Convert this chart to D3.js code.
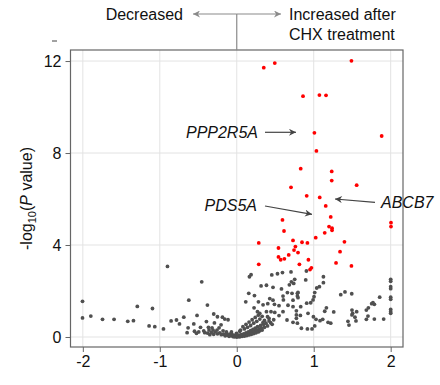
<!DOCTYPE html>
<html><head><meta charset="utf-8">
<script src="https://cdn.jsdelivr.net/npm/d3@7"></script>
<style>body{margin:0;background:#fff}svg{display:block;font-family:"Liberation Sans",Arial,sans-serif}</style>
</head><body><svg id="c" width="440" height="385"></svg>
<script>
const xTicks = [-2, -1, 0, 1, 2];
const yTicks = [0, 4, 8, 12];
const headerLeft = "Decreased";
const headerRight = ["Increased after", "CHX treatment"];
// significant (red) points: [log2 fold change, -log10 P]
const sigPoints = [
[0.351,11.71],[0.494,11.91],[1.490,12.01],[0.861,10.47],[1.074,10.52],[1.160,10.51],
[1.009,8.88],[1.883,8.74],[1.035,8.09],[0.831,7.32],[1.234,7.20],[1.234,6.80],
[0.705,6.51],[1.558,6.60],[0.909,6.14],[1.078,6.07],[1.156,5.70],[1.221,5.22],
[2.004,4.97],[2.004,4.80],[0.594,5.09],[0.614,4.61],[1.199,4.80],[1.238,4.73],
[1.238,4.64],[1.143,4.53],[1.026,4.32],[0.286,4.09],[0.731,4.20],[0.848,4.12],
[0.918,4.09],[1.399,4.14],[0.762,3.93],[0.744,3.78],[0.796,3.67],[0.542,3.87],
[1.342,3.71],[0.675,3.57],[0.542,3.48],[0.571,3.36],[0.619,3.40],[0.931,3.36],
[0.286,3.16],[0.814,3.16],[1.290,3.22],[0.970,3.01],[0.952,2.93],[1.490,3.09]
];
// non-significant (grey) points
const nsPoints = [
[-2.004,1.55],[-2.004,0.83],[-1.896,0.91],[-1.744,0.77],[-1.594,0.77],[-1.416,0.68],
[-1.342,0.71],[-1.292,1.33],[-1.139,0.48],[-1.095,1.24],[-1.065,0.45],[-0.952,0.35],
[-0.900,3.07],[-0.853,0.70],[-0.783,0.74],[-0.744,0.57],[-0.688,0.86],[-0.623,1.60],
[-0.516,0.94],[-0.455,2.40],[-0.381,1.39],[-0.299,1.00],[-0.251,0.88],[-0.156,0.78],
[-0.113,0.75],[-0.558,0.57],[-0.394,0.67],[-0.290,0.61],[-0.204,0.53],[-0.186,0.86],
[-0.632,0.40],[-0.471,0.42],[-0.368,0.42],[-0.321,0.40],[-0.230,0.40],[-0.645,0.19],
[-0.549,0.25],[-0.494,0.22],[-0.429,0.27],[-0.360,0.30],[-0.308,0.30],[-0.256,0.30],
[-0.178,0.27],[-0.523,0.16],[-0.416,0.19],[-0.134,0.22],[-0.069,0.22],[-0.004,0.16],
[0.039,0.25],
[-0.17,0.12],[-0.15,0.05],[-0.13,0.15],[-0.12,0.08],[-0.10,0.03],[-0.09,0.12],[-0.08,0.06],
[-0.06,0.10],[-0.05,0.02],[-0.04,0.07],[-0.03,0.01],[-0.02,0.05],[0.00,0.00],[0.01,0.04],
[0.02,0.02],[0.03,0.08],[0.04,0.01],[0.05,0.05],[0.06,0.10],[0.07,0.03],[0.08,0.07],
[0.09,0.14],[0.10,0.04],[0.11,0.09],[0.12,0.18],[0.13,0.06],[0.14,0.12],[0.15,0.22],
[0.16,0.09],[0.17,0.16],[0.18,0.28],[0.19,0.12],[0.20,0.20],[0.21,0.33],[0.22,0.15],
[0.23,0.25],[0.24,0.38],[0.25,0.18],[0.26,0.30],[0.27,0.45],[0.28,0.22],[0.29,0.35],
[0.30,0.27],[0.31,0.50],[0.32,0.40],[0.33,0.30],[0.35,0.55],[0.36,0.42],[0.38,0.60],
[0.40,0.48],[0.42,0.70],[-0.20,0.10],[-0.22,0.18],[-0.25,0.14],[-0.28,0.22],[-0.30,0.12],
[-0.33,0.20],[-0.35,0.10],[-0.38,0.17],
[0.165,2.62],[0.186,2.71],[0.455,2.70],[0.594,2.80],[0.705,2.83],[0.316,2.22],[0.386,2.25],
[0.471,2.16],[0.710,2.40],[0.740,2.33],[0.684,2.27],[0.581,2.09],[0.156,1.90],[0.230,1.80],
[0.117,1.53],[0.429,1.67],[0.471,1.60],[0.601,1.78],[0.658,1.93],[0.718,1.90],[0.788,1.90],
[0.606,1.61],[0.731,1.60],[0.796,1.71],[0.282,1.53],[0.342,1.40],[0.403,1.45],[0.490,1.42],
[0.549,1.36],[0.666,1.38],[0.731,1.32],[0.225,1.27],[0.269,1.10],[0.299,1.03],[0.386,1.10],
[0.445,1.10],[0.494,1.07],[0.601,1.10],[0.775,1.14],[0.549,0.93],[0.419,0.81],[0.653,0.74],
[0.775,0.96],[0.731,0.64],[0.529,2.75],
[0.05,0.30],[0.08,0.45],[0.10,0.35],[0.12,0.55],[0.14,0.42],[0.16,0.65],[0.18,0.50],
[0.20,0.75],[0.22,0.60],[0.24,0.85],[0.26,0.68],[0.28,0.95],[0.30,0.78],[0.33,0.90],
[0.36,0.72],[0.40,0.88],[0.44,0.62],[0.48,0.75],[0.34,0.62],[0.46,0.55],
[0.905,2.87],[0.896,2.48],[1.126,2.62],[1.126,2.36],[1.074,2.19],[1.039,2.13],[1.013,1.93],
[1.004,1.75],[0.991,1.61],[0.961,1.49],[0.909,1.47],[0.753,2.51],[0.796,1.94],[0.788,1.78],
[0.831,1.32],[0.926,1.03],[0.827,0.94],[0.996,0.88],[1.165,1.27],[1.143,1.12],[1.260,1.09],
[1.351,1.84],[1.406,1.96],[0.775,0.81],[0.788,0.60],[1.030,0.77],[1.082,0.71],[1.117,0.77],
[1.186,0.64],[1.221,0.60],[1.013,0.48],[0.840,0.38],[0.918,0.35],[0.978,0.35],[1.445,0.68],
[1.497,1.17],[1.506,1.03],[1.458,0.52],
[1.494,1.88],[1.857,1.73],[1.770,1.49],[1.788,1.42],[1.753,1.45],[1.710,1.27],[1.684,1.17],
[1.558,1.10],[1.497,0.96],[1.536,0.86],[1.705,0.91],[1.684,0.77],[1.788,0.78],[1.909,0.78],
[1.549,0.70],
[2.0,2.51],[2.0,2.42],[2.0,2.19],[2.0,2.10],[2.0,1.73],[2.0,1.64],[2.0,1.20],[2.0,1.10],[2.0,1.03]
];
// labelled genes: [name, text x, text y (data), arrow from, arrow to] in data units
const genes = ["PPP2R5A", "PDS5A", "ABCB7"];

const svg = d3.select("#c");
const L = 70.5, R = 403, T = 50, B = 347;
const x = d3.scaleLinear().domain([-2.16, 2.16]).range([L, R]);
const y = d3.scaleLinear().domain([-0.435, 12.48]).range([B, T]);

// grid
const g = svg.append("g");
g.selectAll(".vg").data(xTicks).join("line")
  .attr("x1", d => x(d)).attr("x2", d => x(d)).attr("y1", T).attr("y2", B)
  .attr("stroke", "#e3e3e3").attr("stroke-width", 1);
g.selectAll(".hg").data(yTicks).join("line")
  .attr("x1", L).attr("x2", R).attr("y1", d => y(d)).attr("y2", d => y(d))
  .attr("stroke", "#e3e3e3").attr("stroke-width", 1);

// axes
const xAxis = svg.append("g").attr("transform", `translate(0,${B})`)
  .call(d3.axisBottom(x).tickValues(xTicks).tickSize(5).tickPadding(4).tickFormat(d3.format("d")));
const yAxis = svg.append("g").attr("transform", `translate(${L},0)`)
  .call(d3.axisLeft(y).tickValues(yTicks).tickSize(5).tickPadding(4).tickFormat(d3.format("d")));
[xAxis, yAxis].forEach(a => {
  a.select(".domain").remove();
  a.selectAll(".tick line").attr("stroke", "#666");
  a.selectAll(".tick text").attr("fill", "#111").style("font-size", "16px")
   .style("font-family", '"Liberation Sans",Arial,sans-serif');
});
xAxis.selectAll(".tick text").text(d => d < 0 ? "-" + Math.abs(d) : d);

// points
svg.append("g").selectAll("circle").data(nsPoints).join("circle")
  .attr("cx", d => x(d[0])).attr("cy", d => y(d[1])).attr("r", 1.9).attr("fill", "#505050");
svg.append("g").selectAll("circle").data(sigPoints).join("circle")
  .attr("cx", d => x(d[0])).attr("cy", d => y(d[1])).attr("r", 1.9).attr("fill", "#ff0000");

// panel border
svg.append("rect").attr("x", L).attr("y", T).attr("width", R - L).attr("height", B - T)
  .attr("fill", "none").attr("stroke", "#666").attr("stroke-width", 1.2);

// y label
const yl = svg.append("text").attr("transform", `translate(32,${(T + B) / 2}) rotate(-90)`)
  .attr("text-anchor", "middle").style("font-size", "16px").attr("fill", "#111");
yl.append("tspan").text("-log");
yl.append("tspan").attr("dy", 4).style("font-size", "11px").text("10");
yl.append("tspan").attr("dy", -4).text("(");
yl.append("tspan").style("font-style", "italic").text("P");
yl.append("tspan").text(" value)");

// arrow markers
const defs = svg.append("defs");
function marker(id, color) {
  defs.append("marker").attr("id", id).attr("viewBox", "0 0 10 10").attr("refX", 10).attr("refY", 5)
    .attr("markerWidth", 9).attr("markerHeight", 7).attr("markerUnits", "userSpaceOnUse")
    .attr("orient", "auto-start-reverse")
    .append("path").attr("d", "M0,0 L10,5 L0,10 L3,5 Z").attr("fill", color);
}
marker("ah", "#444");
marker("hg", "#8a8a8a");

// header
const cx0 = x(0);
svg.append("line").attr("x1", cx0).attr("x2", cx0).attr("y1", 14).attr("y2", T).attr("stroke", "#8a8a8a").attr("stroke-width", 1.2);
svg.append("line").attr("x1", cx0).attr("x2", 193).attr("y1", 14).attr("y2", 14)
  .attr("stroke", "#8a8a8a").attr("stroke-width", 1.2).attr("marker-end", "url(#hg)");
svg.append("line").attr("x1", cx0).attr("x2", 281).attr("y1", 14).attr("y2", 14)
  .attr("stroke", "#8a8a8a").attr("stroke-width", 1.2).attr("marker-end", "url(#hg)");
svg.append("text").attr("x", 183).attr("y", 20).attr("text-anchor", "end").style("font-size", "16px").attr("fill", "#111").text(headerLeft);
svg.append("text").attr("x", 289).attr("y", 20).style("font-size", "16px").attr("fill", "#111").text(headerRight[0]);
svg.append("text").attr("x", 289).attr("y", 40).style("font-size", "16px").attr("fill", "#111").text(headerRight[1]);
svg.append("line").attr("x1", 52).attr("x2", 57).attr("y1", 41).attr("y2", 41).attr("stroke", "#444").attr("stroke-width", 1);

// gene annotations
const ann = [
  {t: genes[0], tx: 258, ty: 137.5, anchor: "end", a: [265, 132.3, 296, 132.3]},
  {t: genes[1], tx: 257, ty: 211, anchor: "end", a: [265, 206, 312, 214.3]},
  {t: genes[2], tx: 381, ty: 208, anchor: "start", a: [375, 202.3, 335, 199]}
];
ann.forEach(d => {
  svg.append("text").attr("x", d.tx).attr("y", d.ty).attr("text-anchor", d.anchor)
    .style("font-size", "16px").style("font-style", "italic").attr("fill", "#111").text(d.t);
  svg.append("line").attr("x1", d.a[0]).attr("y1", d.a[1]).attr("x2", d.a[2]).attr("y2", d.a[3])
    .attr("stroke", "#444").attr("stroke-width", 1.2).attr("marker-end", "url(#ah)");
});
</script></body></html>
